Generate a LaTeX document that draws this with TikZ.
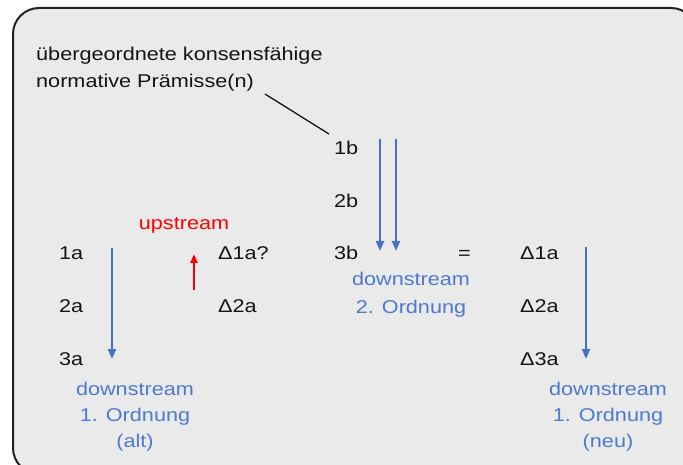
\documentclass[tikz,border=0pt]{standalone}
\usepackage{fontspec}
\setmainfont{Liberation Sans}[FakeStretch=1.17]
\usetikzlibrary{arrows.meta}
\definecolor{bgfill}{HTML}{EAEAEA}
\definecolor{frameline}{HTML}{222222}
\definecolor{bluearrow}{HTML}{4472C4}
\definecolor{bluetext}{HTML}{4D79D2}
\definecolor{txt}{HTML}{141414}
\tikzset{
  lbl/.style={anchor=base west, inner sep=0pt, text=txt, font=\fontsize{18.5}{26}\selectfont},
  blbl/.style={anchor=base, inner sep=0pt, text=bluetext, font=\fontsize{18.5}{26}\selectfont},
  rlbl/.style={anchor=base, inner sep=0pt, text=red, font=\fontsize{18.5}{26}\selectfont},
  bluearr/.style={draw=bluearrow, line width=2.2pt, -{Triangle[length=10pt,width=8pt]}},
  redarr/.style={draw=red, line width=2.2pt, -{Triangle[length=9pt,width=7pt]}},
}
\begin{document}
\begin{tikzpicture}[x=1pt,y=-1pt]
\useasboundingbox (0,0) rectangle (683,465);
\clip (0,0) rectangle (683,465);
\draw[fill=bgfill, draw=frameline, line width=2pt, rounded corners=26pt] (13,8) rectangle (697,474);

\node[lbl] (p1) at (36,61) {übergeordnete konsensfähige};
\node[lbl] (p2) at (36,88) {normative Prämisse(n)};

\node[lbl] (b1) at (334,155) {1b};
\node[lbl] (b2) at (334,207.5) {2b};
\node[lbl] (b3) at (334,260) {3b};

\node[lbl] (a1) at (59,260) {1a};
\node[lbl] (a2) at (59,312.5) {2a};
\node[lbl] (a3) at (59,365) {3a};

\node[lbl] (d1q) at (218,260) {Δ1a?};
\node[lbl] (d2l) at (218,312.5) {Δ2a};

\node[lbl] (eq) at (458,260) {=};

\node[lbl] (d1) at (520,260) {Δ1a};
\node[lbl] (d2) at (520,312.5) {Δ2a};
\node[lbl] (d3) at (520,365) {Δ3a};

\node[rlbl] (up) at (184,230) {upstream};

\node[blbl] (ds2a) at (411,286) {downstream};
\node[blbl] (ds2b) at (411,313) {2. Ordnung};

\node[blbl] (dsa1) at (135,395) {downstream};
\node[blbl] (dsa2) at (135,421) {1. Ordnung};
\node[blbl] (dsa3) at (135,447) {(alt)};

\node[blbl] (dsn1) at (608,395) {downstream};
\node[blbl] (dsn2) at (608,421) {1. Ordnung};
\node[blbl] (dsn3) at (608,447) {(neu)};

% connector from premise to 1b
\coordinate (ls) at (265,94);
\coordinate (le) at (329,134);
\draw[line width=1.3pt, draw=txt] (ls) -- (le);

% arrows
\coordinate (la1) at (112,248);
\coordinate (la2) at (112,359);
\draw[bluearr] (la1) -- (la2);

\coordinate (ra1) at (586,247);
\coordinate (ra2) at (586,359);
\draw[bluearr] (ra1) -- (ra2);

\coordinate (m1s) at (380,139);
\coordinate (m1e) at (380,251);
\coordinate (m2s) at (396,139);
\coordinate (m2e) at (396,251);
\draw[bluearr] (m1s) -- (m1e);
\draw[bluearr] (m2s) -- (m2e);

\coordinate (us) at (194,290);
\coordinate (ue) at (194,254);
\draw[redarr] (us) -- (ue);
\end{tikzpicture}
\end{document}
